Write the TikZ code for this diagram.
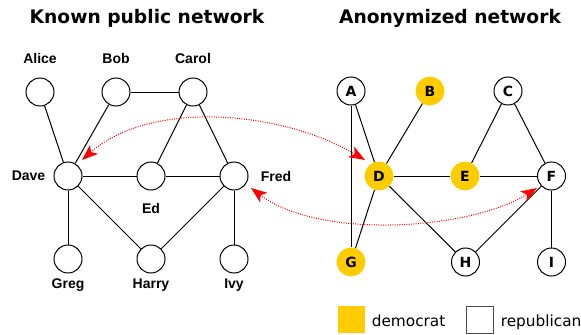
\documentclass[tikz,border=0pt]{standalone}
\usepackage{fontspec}
\setmainfont{DejaVu Sans}
\newfontfamily\labfont{Liberation Sans}
\usetikzlibrary{arrows.meta}
\definecolor{demcol}{HTML}{FFCC00}
\begin{document}
\begin{tikzpicture}[x=0.75pt,y=-0.75pt,
  pub/.style={circle,draw,line width=0.75pt,minimum size=21pt,inner sep=0pt},
  rep/.style={circle,draw,fill=white,line width=0.75pt,minimum size=21pt,inner sep=0pt,font=\bfseries\fontsize{10.5}{12}\selectfont},
  dem/.style={circle,fill=demcol,minimum size=21.5pt,inner sep=0pt,font=\bfseries\fontsize{10.5}{12}\selectfont},
  lbl/.style={font=\labfont\bfseries\fontsize{10.5}{12}\selectfont,inner sep=0pt},
  ttl/.style={font=\bfseries\fontsize{14}{16}\selectfont,inner sep=0pt,anchor=base},
  edge/.style={line width=0.75pt},
  link/.style={red,densely dotted,line width=0.75pt,{Stealth[length=12pt,width=9pt,inset=3pt]}-{Stealth[length=12pt,width=9pt,inset=3pt]}}]
\useasboundingbox (0,0) rectangle (581,335);

% titles
\node[ttl] (t1) at (147,24) {Known public network};
\node[ttl] (t2) at (450,24) {Anonymized network};

% left network
\node[pub] (alice) at (40,92) {};
\node[pub] (bob) at (116,92) {};
\node[pub] (carol) at (193,92) {};
\node[pub] (dave) at (68,176) {};
\node[pub] (ed) at (151,176) {};
\node[pub] (fred) at (234,176) {};
\node[pub] (greg) at (68,259) {};
\node[pub] (harry) at (151,259) {};
\node[pub] (ivy) at (234,259) {};

\node[lbl] (lalice) at (40,58) {Alice};
\node[lbl] (lbob) at (116,58) {Bob};
\node[lbl] (lcarol) at (193,58) {Carol};
\node[lbl] (ldave) at (28.5,176) {Dave};
\node[lbl] (led) at (151,208) {Ed};
\node[lbl] (lfred) at (276,176) {Fred};
\node[lbl] (lgreg) at (68,285) {Greg};
\node[lbl] (lharry) at (151,285) {Harry};
\node[lbl] (livy) at (234,285) {Ivy};

\draw[edge] (alice) -- (dave);
\draw[edge] (bob) -- (dave);
\draw[edge] (bob) -- (carol);
\draw[edge] (carol) -- (ed);
\draw[edge] (carol) -- (fred);
\draw[edge] (dave) -- (ed);
\draw[edge] (ed) -- (fred);
\draw[edge] (dave) -- (greg);
\draw[edge] (dave) -- (harry);
\draw[edge] (harry) -- (fred);
\draw[edge] (fred) -- (ivy);

% right network
\node[rep] (A) at (351,91) {A};
\node[dem] (B) at (430,91) {B};
\node[rep] (C) at (508,91) {C};
\node[dem] (D) at (379,176) {D};
\node[dem] (E) at (465,176) {E};
\node[rep] (F) at (551.5,176) {F};
\node[dem] (G) at (351,262) {G};
\node[rep] (H) at (465.5,262) {H};
\node[rep] (I) at (551.5,262) {I};

\draw[edge] (A.south) -- (G.north);
\draw[edge] (A) -- (D);
\draw[edge] (B) -- (D);
\draw[edge] (D) -- (G);
\draw[edge] (D) -- (E);
\draw[edge] (E) -- (F);
\draw[edge] (D) -- (H);
\draw[edge] (H) -- (F);
\draw[edge] (C) -- (E);
\draw[edge] (C) -- (F);
\draw[edge] (F) -- (I);

% red mapping arrows
\coordinate (pdave) at (82,160);
\coordinate (pD) at (365,160);
\coordinate (pfred) at (251,188);
\coordinate (pF) at (537,188);
\draw[link] (pdave) .. controls (150,100) and (280,110) .. (pD);
\draw[link] (pfred) .. controls (320,240) and (470,230) .. (pF);

% legend
\node[fill=demcol,minimum size=20.25pt,inner sep=0pt] (kdem) at (351.5,319.5) {};
\node[font=\fontsize{11.5}{13}\selectfont,anchor=base west,inner sep=0pt] (tdem) at (371.5,326) {democrat};
\node[draw=black!70,fill=white,line width=0.75pt,minimum size=20.25pt,inner sep=0pt] (krep) at (480,319.5) {};
\node[font=\fontsize{11.5}{13}\selectfont,anchor=base west,inner sep=0pt] (trep) at (500.5,326) {republican};
\end{tikzpicture}
\end{document}
